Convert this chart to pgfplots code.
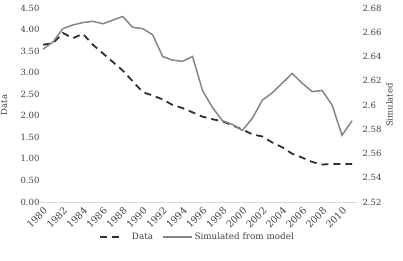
\documentclass[border=0pt]{standalone}
\usepackage{pgfplots}
\pgfplotsset{compat=1.18}
\usepackage{fontspec}
\setmainfont{DejaVu Serif}

\definecolor{txt}{HTML}{404040}
\definecolor{simgray}{HTML}{858585}
\definecolor{datagray}{HTML}{303030}

% legend samples: two dashes with trailing room, or one long line
\pgfplotsset{
  short legend/.style={legend image code/.code={\draw[##1] (0pt,0pt) -- (19pt,0pt); \path (29pt,0pt);}},
  long legend/.style={legend image code/.code={\draw[##1] (0pt,0pt) -- (29pt,0pt);}},
}

% observed series (left axis)
\pgfplotstableread{
year val
1980 3.65
1981 3.68
1982 3.92
1983 3.80
1984 3.90
1985 3.65
1986 3.45
1987 3.25
1988 3.05
1989 2.80
1990 2.55
1991 2.47
1992 2.38
1993 2.25
1994 2.18
1995 2.08
1996 1.98
1997 1.92
1998 1.87
1999 1.78
2000 1.68
2001 1.57
2002 1.52
2003 1.38
2004 1.27
2005 1.12
2006 1.03
2007 0.93
2008 0.87
2009 0.88
2010 0.88
2011 0.88
}\obsdata

% model output (right axis)
\pgfplotstableread{
year val
1980 2.646
1981 2.652
1982 2.663
1983 2.666
1984 2.668
1985 2.669
1986 2.667
1987 2.670
1988 2.673
1989 2.664
1990 2.663
1991 2.658
1992 2.640
1993 2.637
1994 2.636
1995 2.640
1996 2.612
1997 2.598
1998 2.587
1999 2.584
2000 2.579
2001 2.589
2002 2.604
2003 2.610
2004 2.618
2005 2.626
2006 2.618
2007 2.611
2008 2.612
2009 2.600
2010 2.575
2011 2.587
}\simdata

\begin{document}
\begin{tikzpicture}[font=\fontsize{8.5}{10}\selectfont]
\useasboundingbox (-38pt,-59pt) rectangle (365pt,202pt);
\pgfplotsset{every axis/.append style={
  scale only axis, width=319pt, height=194pt,
  xmin=1979.5, xmax=2011.5,
  every tick label/.append style={text=txt},
  every axis label/.append style={text=txt},
  major tick length=0pt,
  /pgf/number format/assume math mode=true,
}}
\begin{axis}[
  axis x line*=bottom, axis y line*=left,
  x axis line style={draw=black!15, -},
  y axis line style={draw=none},
  ymin=0, ymax=4.5, ytick={0,0.5,...,4.5},
  yticklabel shift=-5pt,
  y tick label style={/pgf/number format/.cd, fixed, fixed zerofill, precision=2},
  xtick={1980,1982,...,2010},
  xticklabel shift=3pt,
  x tick label style={rotate=45, anchor=north east, inner sep=1pt,
    font=\fontsize{9.5}{11}\selectfont,
    /pgf/number format/set thousands separator={}},
  ylabel={Data},
  ylabel style={at={(axis description cs:-0.085,0.5)}, anchor=south},
  legend columns=2,
  legend style={at={(0.5,-0.18)}, anchor=center, draw=none, fill=none,
    text=txt, font=\fontsize{8.8}{10}\selectfont,
    /tikz/every even column/.append style={column sep=7pt}},
]
\addplot[datagray, line width=1.8pt, dash pattern=on 7pt off 5pt, short legend]
  table[x=year, y=val] {\obsdata};
\addlegendentry{Data}
\addlegendimage{simgray, line width=1.5pt, long legend}
\addlegendentry{Simulated from model}
\end{axis}
\begin{axis}[
  axis y line*=right, hide x axis,
  y axis line style={draw=none},
  ymin=2.52, ymax=2.68, ytick={2.52,2.54,...,2.681},
  yticklabel shift=2pt,
  y tick label style={/pgf/number format/.cd, fixed, precision=2},
  ylabel={Simulated},
  ylabel style={at={(axis description cs:1.08,0.5)}, anchor=north},
]
\addplot[simgray, line width=1.5pt] table[x=year, y=val] {\simdata};
\end{axis}
\end{tikzpicture}
\end{document}
